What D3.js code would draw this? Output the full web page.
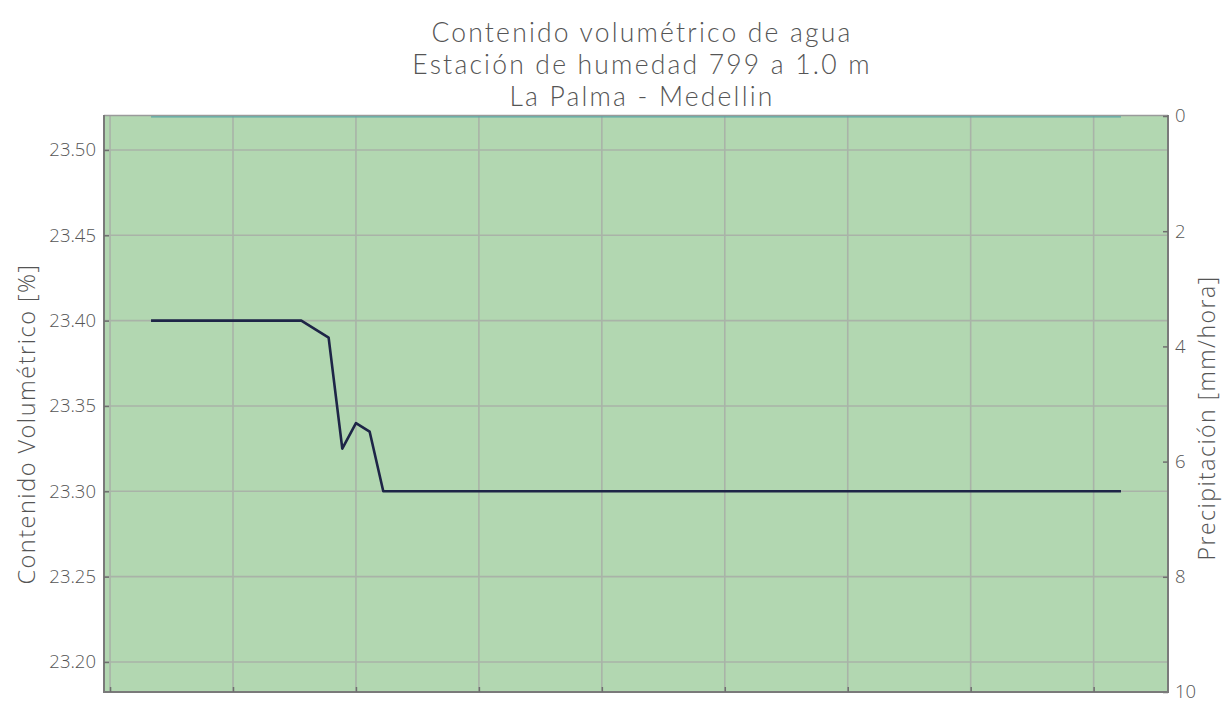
<!DOCTYPE html>
<html>
<head>
<meta charset="utf-8">
<script src="https://cdn.jsdelivr.net/npm/d3@7"></script>
<style>
  html, body { margin: 0; padding: 0; background: #fff; }
  svg text { font-family: "Open Sans", Lato, sans-serif; font-weight: 300; fill: #555; }
</style>
</head>
<body>
<svg id="chart" width="1223" height="708"></svg>
<script>
// Sampling: one reading every 20 minutes, starting at 01:00 (hours)
const startHour = 1;
const stepHours = 20 / 60;

// Volumetric water content [%]
const humedad = [
  23.40, 23.40, 23.40, 23.40, 23.40, 23.40, 23.40, 23.40, 23.40, 23.40, 23.40, 23.40,
  23.395, 23.39, 23.325, 23.34, 23.335, 23.30,
  23.30, 23.30, 23.30, 23.30, 23.30, 23.30, 23.30, 23.30, 23.30, 23.30, 23.30, 23.30,
  23.30, 23.30, 23.30, 23.30, 23.30, 23.30, 23.30, 23.30, 23.30, 23.30, 23.30, 23.30,
  23.30, 23.30, 23.30, 23.30, 23.30, 23.30, 23.30, 23.30, 23.30, 23.30, 23.30, 23.30,
  23.30, 23.30, 23.30, 23.30, 23.30, 23.30, 23.30, 23.30, 23.30, 23.30, 23.30, 23.30,
  23.30, 23.30, 23.30, 23.30, 23.30, 23.30
];

// Precipitation [mm/hora] for the same readings
const precipitacion = [
  0, 0, 0, 0, 0, 0, 0, 0, 0, 0, 0, 0, 0, 0, 0, 0, 0, 0,
  0, 0, 0, 0, 0, 0, 0, 0, 0, 0, 0, 0, 0, 0, 0, 0, 0, 0,
  0, 0, 0, 0, 0, 0, 0, 0, 0, 0, 0, 0, 0, 0, 0, 0, 0, 0,
  0, 0, 0, 0, 0, 0, 0, 0, 0, 0, 0, 0, 0, 0, 0, 0, 0, 0
];

const yTicksLeft = [23.20, 23.25, 23.30, 23.35, 23.40, 23.45, 23.50];
const yTicksRight = [0, 2, 4, 6, 8, 10];
const xTicks = [0, 3, 6, 9, 12, 15, 18, 21, 24];

const titleLines = [
  "Contenido volumétrico de agua",
  "Estación de humedad 799 a 1.0 m",
  "La Palma - Medellin"
];

const svg = d3.select("#chart");
const W = 1223, H = 708;
const m = { left: 104, right: W - 1168, top: 116, bottom: H - 692 };
const pw = W - m.left - m.right, ph = H - m.top - m.bottom;

const horas = humedad.map((_, i) => startHour + i * stepHours);
const span = horas[horas.length - 1] - horas[0];
const pad = span * 0.0485;

const x = d3.scaleLinear().domain([horas[0] - pad, horas[horas.length - 1] + pad]).range([m.left, m.left + pw]);
const y = d3.scaleLinear().domain([23.1824, 23.5199]).range([m.top + ph, m.top]);
const yR = d3.scaleLinear().domain([0, 10]).range([m.top, m.top + ph]);

// Plot background
svg.append("rect")
  .attr("x", m.left).attr("y", m.top).attr("width", pw).attr("height", ph)
  .attr("fill", "#b2d7b1");

// Grid lines
const grid = svg.append("g").attr("stroke", "#a9b3a8").attr("stroke-width", 1.6);
grid.selectAll(".gx").data(xTicks).join("line")
  .attr("x1", d => x(d)).attr("x2", d => x(d))
  .attr("y1", m.top).attr("y2", m.top + ph);
grid.selectAll(".gy").data(yTicksLeft).join("line")
  .attr("x1", m.left).attr("x2", m.left + pw)
  .attr("y1", d => y(d)).attr("y2", d => y(d));

// Frame top edge
svg.append("line").attr("x1", m.left).attr("x2", m.left + pw).attr("y1", m.top - 0.5).attr("y2", m.top - 0.5)
  .attr("stroke", "#9a9a9a").attr("stroke-width", 1.5);

// Precipitation series (right axis, inverted)
svg.append("path")
  .datum(precipitacion)
  .attr("fill", "none")
  .attr("stroke", "#5aa5a6")
  .attr("stroke-width", 1.3)
  .attr("d", d3.line().x((d, i) => x(horas[i])).y(d => yR(d) + 0.8));

// Water content line
svg.append("path")
  .datum(humedad)
  .attr("fill", "none")
  .attr("stroke", "#1e2547")
  .attr("stroke-width", 2.6)
  .attr("stroke-linejoin", "round")
  .attr("d", d3.line().x((d, i) => x(horas[i])).y(d => y(d)));

// Axes (ticks pointing into the plot)
const axL = svg.append("g").attr("transform", `translate(${m.left},0)`)
  .call(d3.axisLeft(y).tickValues(yTicksLeft).tickFormat(d3.format(".2f")).tickSizeInner(-5).tickSizeOuter(0).tickPadding(8));
const axR = svg.append("g").attr("transform", `translate(${m.left + pw},0)`)
  .call(d3.axisRight(yR).tickValues(yTicksRight).tickFormat(d3.format("d")).tickSizeInner(-5).tickSizeOuter(0).tickPadding(7));
const axB = svg.append("g").attr("transform", `translate(0,${m.top + ph})`)
  .call(d3.axisBottom(x).tickValues(xTicks).tickFormat("").tickSizeInner(-5).tickSizeOuter(0));

[axL, axR, axB].forEach(a => {
  a.select(".domain").attr("stroke", "#7a7a7a").attr("stroke-width", 2);
  a.selectAll(".tick line").attr("stroke", "#6f6f6f").attr("stroke-width", 1.5);
  a.selectAll(".tick text").attr("font-size", 18.5).attr("fill", "#555")
    .style("font-family", "'Open Sans', Lato, sans-serif").style("font-weight", 300);
});
axL.select(".domain").attr("d", `M0,${m.top - 1}V${m.top + ph + 1}`);
axR.select(".domain").attr("d", `M0,${m.top - 1}V${m.top + ph + 1}`);
axB.select(".domain").attr("d", `M${m.left - 1},0H${m.left + pw + 1}`);

// Title, three lines (Lato keeps the line boxes within the 32px leading)
svg.append("g").selectAll("text").data(titleLines).join("text")
  .attr("x", 642).attr("y", (d, i) => 42 + i * 32)
  .attr("text-anchor", "middle")
  .attr("font-size", 26.5)
  .attr("letter-spacing", 2.2)
  .style("font-family", "Lato, 'Open Sans', sans-serif")
  .style("font-weight", 300)
  .text(d => d);

// Axis titles
svg.append("text")
  .attr("transform", `translate(35,${m.top + ph / 2 + 20}) rotate(-90)`)
  .attr("text-anchor", "middle").attr("font-size", 23.5)
  .attr("letter-spacing", 1.5)
  .text("Contenido Volumétrico [%]");
svg.append("text")
  .attr("transform", `translate(1215,${m.top + ph / 2 + 14}) rotate(-90)`)
  .attr("text-anchor", "middle").attr("font-size", 23)
  .attr("letter-spacing", 1.5)
  .text("Precipitación [mm/hora]");
</script>
</body>
</html>
